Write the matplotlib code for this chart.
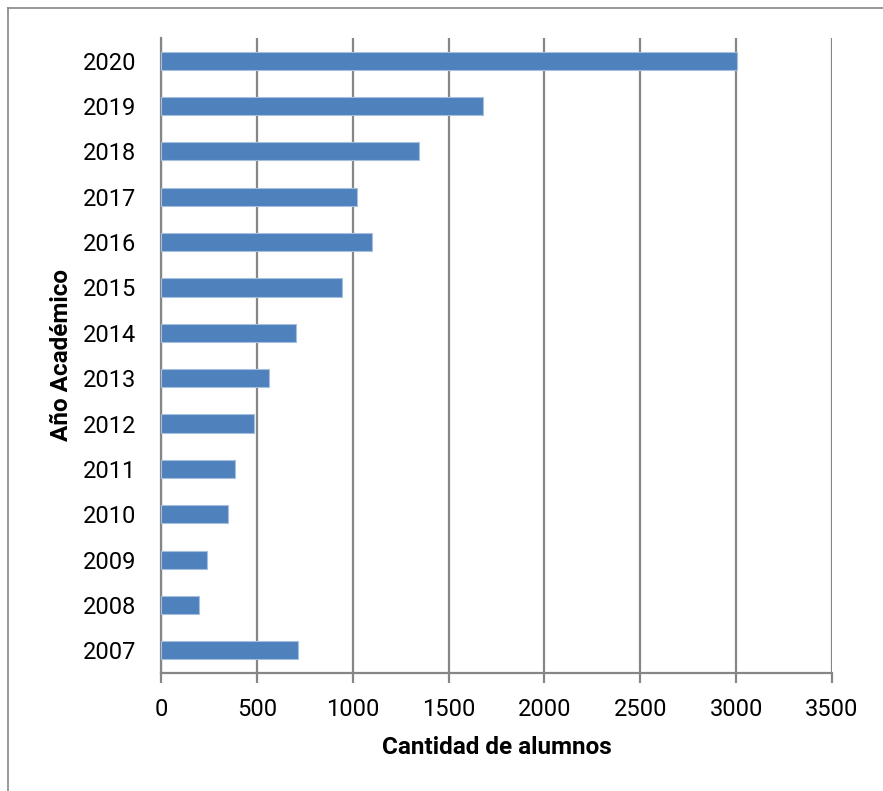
import matplotlib.pyplot as plt
from matplotlib.lines import Line2D

# datos
years = ['2007', '2008', '2009', '2010', '2011', '2012', '2013',
         '2014', '2015', '2016', '2017', '2018', '2019', '2020']
alumnos = [713, 200, 238, 348, 388, 483, 565,
           706, 946, 1101, 1024, 1347, 1681, 3003]
xticks = [0, 500, 1000, 1500, 2000, 2500, 3000, 3500]

plt.rcParams['font.family'] = ['Roboto', 'DejaVu Sans']

fig = plt.figure(figsize=(8.83, 7.91), dpi=100)
ax = fig.add_axes([0.1823, 0.1492, 0.7599, 0.8028])

gray = '#868686'
ax.barh(range(len(years)), alumnos, height=0.4, color='#4F81BD',
        edgecolor='#A7BFDE', linewidth=0.8, zorder=3)

ax.set_xlim(0, 3500)
ax.set_ylim(-0.5, len(years) - 0.5)
ax.set_xticks(xticks)
ax.set_yticks(range(len(years)))
ax.set_yticklabels(years)

ax.grid(axis='x', color=gray, linewidth=1.6, zorder=0)
ax.set_axisbelow(True)
for s in ['top', 'right']:
    ax.spines[s].set_visible(False)
for s in ['left', 'bottom']:
    ax.spines[s].set_color(gray)
    ax.spines[s].set_linewidth(1.6)

ax.tick_params(axis='x', length=7, width=1.6, color=gray, pad=11, labelsize=17)
ax.tick_params(axis='y', length=0, pad=18, labelsize=17)

ax.set_xlabel('Cantidad de alumnos', fontsize=17.5, fontweight='bold', labelpad=11)
ax.set_ylabel('Año Académico', fontsize=17.5, fontweight='bold', labelpad=7)

# borde exterior del gráfico
fig.add_artist(Line2D([8 / 883, 8 / 883], [0, 1 - 8 / 791], color=gray, linewidth=1.2))
fig.add_artist(Line2D([8 / 883, 1], [1 - 8 / 791, 1 - 8 / 791], color=gray, linewidth=1.2))

fig.savefig('out.png', dpi=100)
